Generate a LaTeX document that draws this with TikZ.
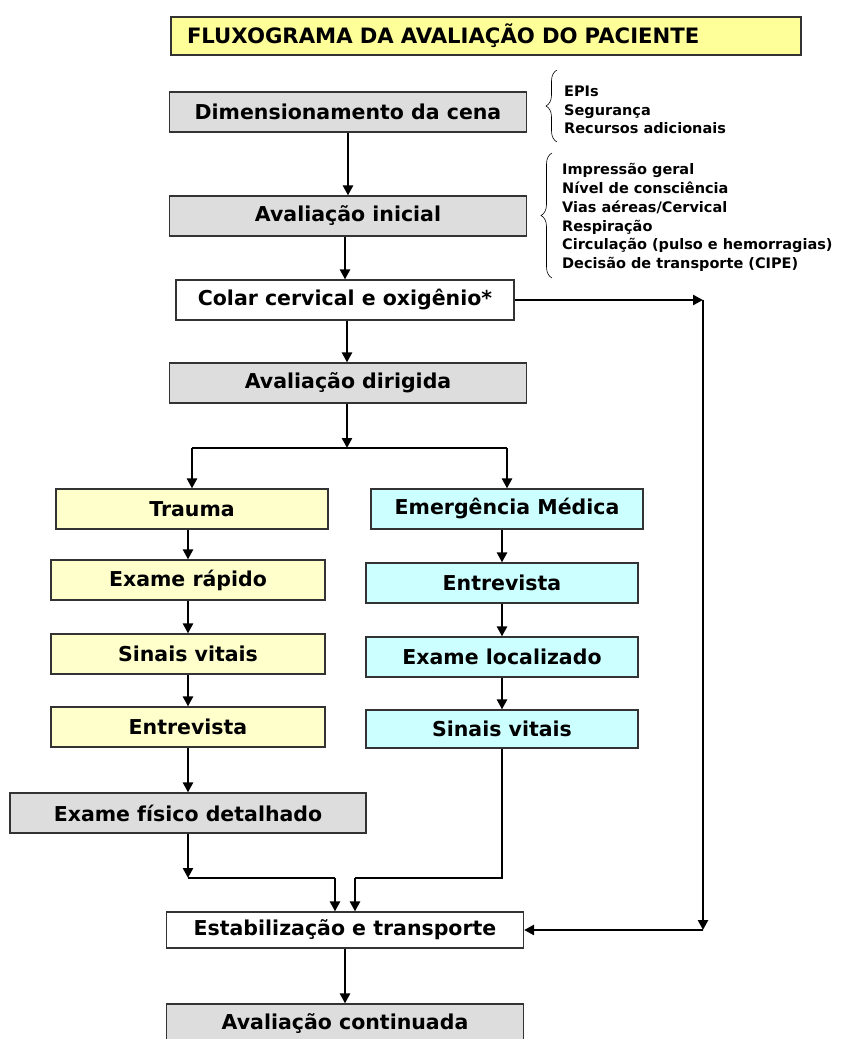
\documentclass[tikz,border=0pt]{standalone}
\usepackage{fontspec}
\setmainfont{DejaVu Sans}
\usepackage{tikz}
\usetikzlibrary{arrows.meta,decorations.pathreplacing}
\definecolor{cinza}{HTML}{DDDDDD}
\definecolor{amarelo}{HTML}{FFFFCC}
\definecolor{ciano}{HTML}{CCFFFF}
\definecolor{titulo}{HTML}{FFFF99}
\tikzstyle{every node}=[font=\bfseries\fontsize{20.5}{24}\selectfont]
\tikzstyle{caixa}=[draw=black!80,line width=1.2pt,minimum height=40pt,inner sep=0pt]
\tikzstyle{cena}=[caixa,fill=cinza,minimum width=357pt]
\tikzstyle{branca}=[caixa,fill=white,minimum width=357pt]
\tikzstyle{trauma}=[caixa,fill=amarelo,minimum width=274pt]
\tikzstyle{clinica}=[caixa,fill=ciano,minimum width=272pt]
\tikzstyle{lista}=[align=left,anchor=west,inner sep=0pt,font=\bfseries\fontsize{14.5}{18.8}\selectfont]
\tikzstyle{seta}=[->,line width=2.4pt]
\tikzstyle{fina}=[line width=1.2pt]
\tikzstyle{chave}=[decorate,decoration={brace,amplitude=11pt},line width=0.6pt]

\begin{document}
\begin{tikzpicture}[x=1pt,y=-1pt,>={Triangle[length=10pt,width=10pt]}]
\useasboundingbox (0,0) rectangle (859,1039);
\node[caixa,fill=titulo,minimum height=38pt,text width=598pt,inner xsep=16pt,align=left,
      font=\bfseries\fontsize{21.2}{24}\selectfont] (tit) at (486,36) {FLUXOGRAMA DA AVALIAÇÃO DO PACIENTE};

\node[cena]   (dim)    at (348,112) {Dimensionamento da cena};
\node[cena]   (ini)    at (348,216) {Avaliação inicial};
\node[branca,minimum width=338pt] (colar) at (345,300) {Colar cervical e oxigênio*};
\node[cena]   (dir)    at (348,383) {Avaliação dirigida};

\node[trauma,minimum width=272pt] (tra) at (192,509) {Trauma};
\node[trauma] (rap)    at (188,580) {Exame rápido};
\node[trauma] (sinE)   at (188,654) {Sinais vitais};
\node[trauma] (entE)   at (188,727) {Entrevista};
\node[cena,minimum width=356pt] (fis) at (188,813) {Exame físico detalhado};

\node[clinica] (emg)   at (507,509) {Emergência Médica};
\node[clinica] (entD)  at (502,583) {Entrevista};
\node[clinica] (loc)   at (502,657) {Exame localizado};
\node[clinica,minimum height=38pt] (sinD) at (502,729) {Sinais vitais};

\node[branca,minimum height=36pt] (est) at (345,930) {Estabilização e transporte};
\node[cena]   (cont)   at (345,1024) {Avaliação continuada};

% chaves com as listas
\draw[chave] (557,142) -- (557,70);
\node[lista] (l1) at (564,110) {EPIs\\Segurança\\Recursos adicionais};
\draw[chave] (552,278) -- (552,153);
\node[lista] (l2) at (562,217.5) {Impressão geral\\Nível de consciência\\Vias aéreas/Cervical\\Respiração\\Circulação (pulso e hemorragias)\\Decisão de transporte (CIPE)};

\coordinate (ramo) at (347,448);
\coordinate (jE) at (188,878);
\coordinate (jD) at (502,878);
\coordinate (ea) at (335,878);
\coordinate (eb) at (355,878);
\coordinate (c1) at (703,300);
\coordinate (c2) at (703,930);

\path[seta] (dim) edge (ini)
            (colar |- ini.south) edge (colar)
            (ramo |- colar.south) edge (ramo |- dir.north)
            (ramo |- dir.south) edge (ramo);
\draw[fina] (tra |- ramo) -- (emg |- ramo);
\path[seta] (tra |- ramo) edge (tra)
            (emg |- ramo) edge (emg)
            (rap |- tra.south) edge (rap)
            (rap) edge (sinE)
            (sinE) edge (entE)
            (entE) edge (fis)
            (entD |- emg.south) edge (entD)
            (entD) edge (loc)
            (loc) edge (sinD)
            (fis) edge (jE);
\draw[fina] (jE) -- (ea);
\draw[fina] (sinD) -- (jD) -- (eb);
\path[seta] (ea) edge (ea |- est.north)
            (eb) edge (eb |- est.north)
            (colar) edge (c1)
            (c1) edge (c2)
            (c2) edge (est)
            (est) edge (cont);
\end{tikzpicture}
\end{document}
